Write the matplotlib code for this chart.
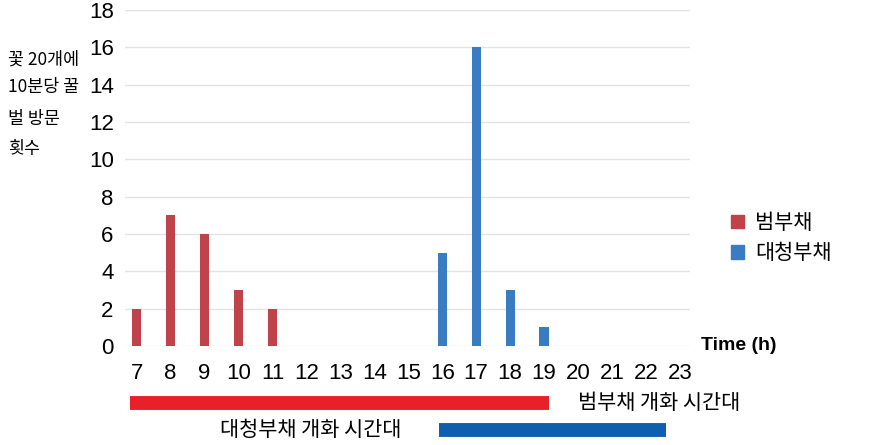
import numpy as np
import matplotlib.pyplot as plt
from matplotlib.patches import Patch

plt.rcParams['font.family'] = ['Liberation Sans', 'Noto Sans CJK KR', 'DejaVu Sans']

hours = list(range(7, 24))
beom = [2, 7, 6, 3, 2, 0, 0, 0, 0, 0, 0, 0, 0, 0, 0, 0, 0]
daecheong = [0, 0, 0, 0, 0, 0, 0, 0, 0, 5, 16, 3, 1, 0, 0, 0, 0]
yticks = list(range(0, 20, 2))

# flowering periods (start, end) in hours
beom_bloom = (6.8, 19.15)
dae_bloom = (15.9, 22.6)

c_red = '#C0434B'
c_blue = '#3A7CC1'
kr = ['Noto Sans CJK KR']

fig = plt.figure(figsize=(8.79, 4.45), dpi=100)
ax = fig.add_axes([0.142, 0.2225, 0.643, 0.755])

x = np.array(hours)
ax.bar(x, beom, width=0.27, color=c_red, zorder=3)
ax.bar(x, daecheong, width=0.27, color=c_blue, zorder=3)

ax.set_xlim(6.65, 23.3)
ax.set_ylim(0, 18)
ax.set_yticks(yticks)
ax.set_xticks(hours)
ax.set_xticklabels([str(h) for h in hours])
ax.tick_params(axis='both', length=0, labelsize=16)
ax.tick_params(axis='x', pad=12)
ax.tick_params(axis='y', pad=8)
ax.grid(axis='y', color='#E3E3E3', linewidth=1, zorder=0)
for s in ax.spines.values():
    s.set_visible(False)

ax.text(1.02, 0.0, 'Time (h)', transform=ax.transAxes, fontsize=14,
        fontweight='bold', va='center', ha='left')

fig.text(0.009, 0.865, '꽃 20개에', fontsize=12.5, va='center', family=kr)
fig.text(0.009, 0.805, '10분당 꿀', fontsize=12.5, va='center', family=kr)
fig.text(0.009, 0.733, '벌 방문', fontsize=12.5, va='center', family=kr)
fig.text(0.009, 0.665, '횟수', fontsize=12.5, va='center', family=kr)

handles = [Patch(color=c_red, label='범부채'), Patch(color=c_blue, label='대청부채')]
fig.legend(handles=handles, loc='center left', bbox_to_anchor=(0.82, 0.465),
           frameon=False, handlelength=0.6, handleheight=0.6,
           handletextpad=0.55, labelspacing=0.4, borderpad=0.0,
           prop={'family': kr, 'size': 15})

# flowering period bars below the axis
trans = ax.get_xaxis_transform()
ax.plot(beom_bloom, [-0.17, -0.17], transform=trans, color='#E8202A',
        linewidth=10, solid_capstyle='butt', clip_on=False)
ax.plot(dae_bloom, [-0.25, -0.25], transform=trans, color='#0E5FAE',
        linewidth=10, solid_capstyle='butt', clip_on=False)
ax.text(beom_bloom[1] + 0.85, -0.17, '범부채 개화 시간대', transform=trans,
        fontsize=15, va='center', ha='left', family=kr)
ax.text(dae_bloom[0] - 1.1, -0.25, '대청부채 개화 시간대', transform=trans,
        fontsize=15, va='center', ha='right', family=kr)

fig.savefig('out.png', dpi=100)
